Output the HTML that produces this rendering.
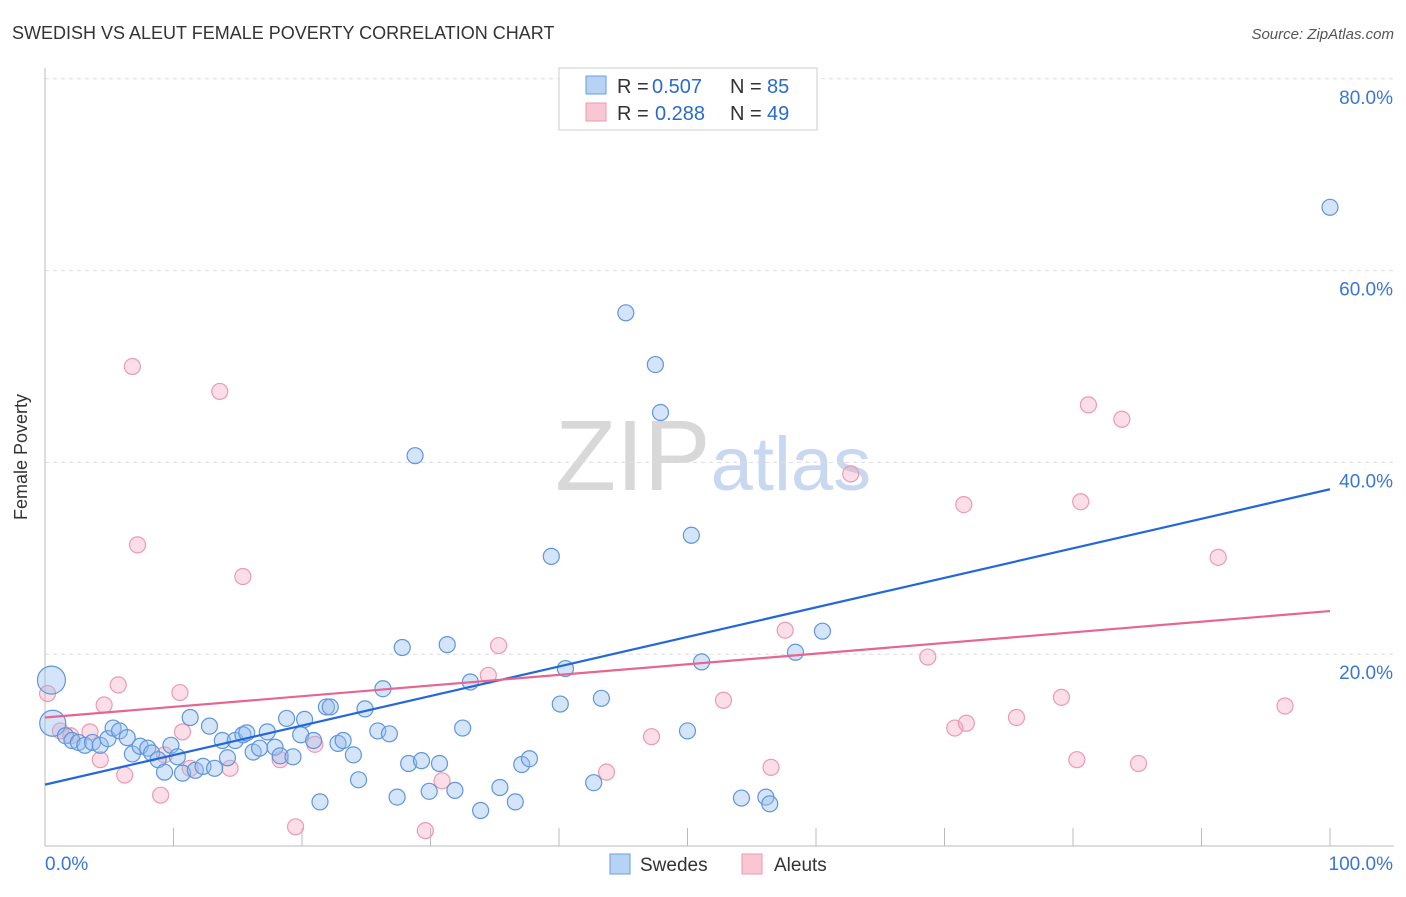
<!DOCTYPE html>
<html><head><meta charset="utf-8"><style>
body{margin:0;background:#fff;font-family:"Liberation Sans",sans-serif}
svg text{font-family:"Liberation Sans",sans-serif}
</style></head><body>
<svg id="c" width="1406" height="892" xmlns="http://www.w3.org/2000/svg">
<text x="12" y="39" font-size="18" fill="#333">SWEDISH VS ALEUT FEMALE POVERTY CORRELATION CHART</text>
<text x="1394" y="39" font-size="15" fill="#555" font-style="italic" text-anchor="end">Source: ZipAtlas.com</text>
<text x="27" y="457" font-size="18" fill="#333" transform="rotate(-90 27 457)" text-anchor="middle">Female Poverty</text>
<text x="555" y="490" font-size="100" fill="#d8d8d8" font-family="Liberation Serif">ZIP<tspan fill="#c8d8f0" font-family="Liberation Sans" font-size="76">atlas</tspan></text>
<g id="grid"></g><g id="pts"></g><g id="lines"></g>
<g>
<rect x="559" y="68" width="258" height="62" fill="#fff" stroke="#ccc"/>
<rect x="586" y="76" width="20" height="18" fill="#b8d2f4" stroke="#6a9ee0"/>
<rect x="586" y="103" width="20" height="18" fill="#f9c6d4" stroke="#ec9ab2"/>
<text x="617" y="93" font-size="20" fill="#333">R =</text>
<text x="652" y="93" font-size="20" fill="#2a6bd0">0.507</text>
<text x="730" y="93" font-size="20" fill="#333">N =</text>
<text x="767" y="93" font-size="20" fill="#2a6bd0">85</text>
<text x="617" y="120" font-size="20" fill="#333">R =</text>
<text x="655" y="120" font-size="20" fill="#2a6bd0">0.288</text>
<text x="730" y="120" font-size="20" fill="#333">N =</text>
<text x="767" y="120" font-size="20" fill="#2a6bd0">49</text>
</g>
<g>
<rect x="610" y="854" width="20" height="20" fill="#b8d2f4" stroke="#6a9ee0"/>
<text x="640" y="871" font-size="19" fill="#333">Swedes</text>
<rect x="742" y="854" width="20" height="20" fill="#f9c6d4" stroke="#ec9ab2"/>
<text x="774" y="871" font-size="19" fill="#333">Aleuts</text>
</g>
<text x="45" y="870" font-size="19" fill="#3a76d4">0.0%</text>
<text x="1393" y="870" font-size="19" fill="#3a76d4" text-anchor="end">100.0%</text>
</svg>
<script>
const yTicks=[20,40,60,80];
const blue=[[0.5,17.3],[0.6,12.8],[1.6,11.5],[2.1,11],[2.6,10.8],[3.1,10.5],[3.7,10.8],[4.3,10.5],[4.9,11.2],[5.3,12.3],[5.8,12],[6.4,11.3],[6.8,9.6],[7.4,10.4],[8,10.2],[8.3,9.7],[8.8,9],[9.3,7.7],[9.8,10.5],[10.3,9.3],[10.7,7.6],[11.3,13.4],[11.7,7.9],[12.3,8.3],[12.8,12.5],[13.2,8.1],[13.8,11],[14.2,9.2],[14.8,11],[15.4,11.6],[15.7,11.8],[16.2,9.8],[16.7,10.2],[17.3,11.9],[17.9,10.3],[18.3,9.4],[18.8,13.3],[19.3,9.3],[19.9,11.6],[20.2,13.2],[20.9,11],[21.4,4.6],[21.9,14.5],[22.2,14.5],[22.8,10.7],[23.2,11],[24,9.5],[24.4,6.9],[24.9,14.3],[25.9,12],[26.3,16.4],[26.8,11.7],[27.4,5.1],[27.8,20.7],[28.3,8.6],[28.8,40.7],[29.3,8.9],[29.9,5.7],[30.7,8.6],[31.3,21],[31.9,5.8],[32.5,12.3],[33.1,17.1],[33.9,3.7],[35.4,6.1],[36.6,4.6],[37.1,8.5],[37.7,9.1],[39.4,30.2],[40.1,14.8],[40.5,18.5],[42.7,6.6],[43.3,15.4],[45.2,55.6],[47.5,50.2],[47.9,45.2],[50,12],[50.3,32.4],[51.1,19.2],[54.2,5],[56.1,5.1],[56.4,4.4],[58.4,20.2],[60.5,22.4],[100,66.6]];
const blueR=[14,13];
const pink=[[0.2,15.9],[1.2,12],[2,11.5],[3.5,11.9],[4.3,9],[4.6,14.7],[5.7,16.8],[6.2,7.4],[6.8,50],[7.2,31.4],[9,5.3],[9.3,9.5],[10.5,16],[10.7,11.9],[11.3,8.1],[13.6,47.4],[14.4,8.1],[15.4,28.1],[18.3,9],[19.5,2],[21,10.6],[29.6,1.6],[30.9,6.8],[34.5,17.8],[35.3,20.9],[43.7,7.7],[47.2,11.4],[52.8,15.2],[56.5,8.2],[57.6,22.5],[62.7,38.8],[68.7,19.7],[70.8,12.3],[71.5,35.6],[71.7,12.8],[75.6,13.4],[79.1,15.5],[80.3,9],[80.6,35.9],[81.2,46],[83.8,44.5],[85.1,8.6],[91.3,30.1],[96.5,14.6]];
const blueLine=[6.4,37.2];
const pinkLine=[13.4,24.5];
const X=v=>45+v*12.85, Y=v=>846-v*9.59;
const NS="http://www.w3.org/2000/svg";
function mk(t,a,p){const e=document.createElementNS(NS,t);for(const k in a)e.setAttribute(k,a[k]);p.appendChild(e);return e;}
const g=document.getElementById('grid');
yTicks.forEach(t=>{
const l=mk('line',{x1:45,x2:1394,y1:Y(t),y2:Y(t),stroke:'#ddd','stroke-dasharray':'4 4'},g);


const tx=mk('text',{x:1393,y:Y(t)+25,'font-size':19,fill:'#3a76d4','text-anchor':'end'},g);tx.textContent=t.toFixed(1)+'%';


});
const ax=mk('line',{x1:45,x2:45,y1:68,y2:846,stroke:'#bbb'},g);


const bx=mk('line',{x1:45,x2:1394,y1:846,y2:846,stroke:'#bbb'},g);


for(let i=1;i<=10;i++){const tk=mk('line',{x1:X(i*10),x2:X(i*10),y1:828,y2:846,stroke:'#bbb'},g);

}
const p=document.getElementById('pts');
pink.forEach(d=>{const c=mk('circle',{cx:X(d[0]),cy:Y(d[1]),r:8,fill:'rgba(244,160,185,0.35)',stroke:'#eb9ab2','stroke-width':1.2},p);

});
blue.forEach((d,i)=>{const c=mk('circle',{cx:X(d[0]),cy:Y(d[1]),r:blueR[i]||8,fill:'rgba(150,190,240,0.4)',stroke:'#5f95dd','stroke-width':1.2},p);

});
const L=document.getElementById('lines');
const bl=mk('line',{x1:X(0),y1:Y(blueLine[0]),x2:X(100),y2:Y(blueLine[1]),stroke:'#2468d8','stroke-width':2.2},L);


const pl=mk('line',{x1:X(0),y1:Y(pinkLine[0]),x2:X(100),y2:Y(pinkLine[1]),stroke:'#e66592','stroke-width':2.2},L);


</script>
</body></html>
